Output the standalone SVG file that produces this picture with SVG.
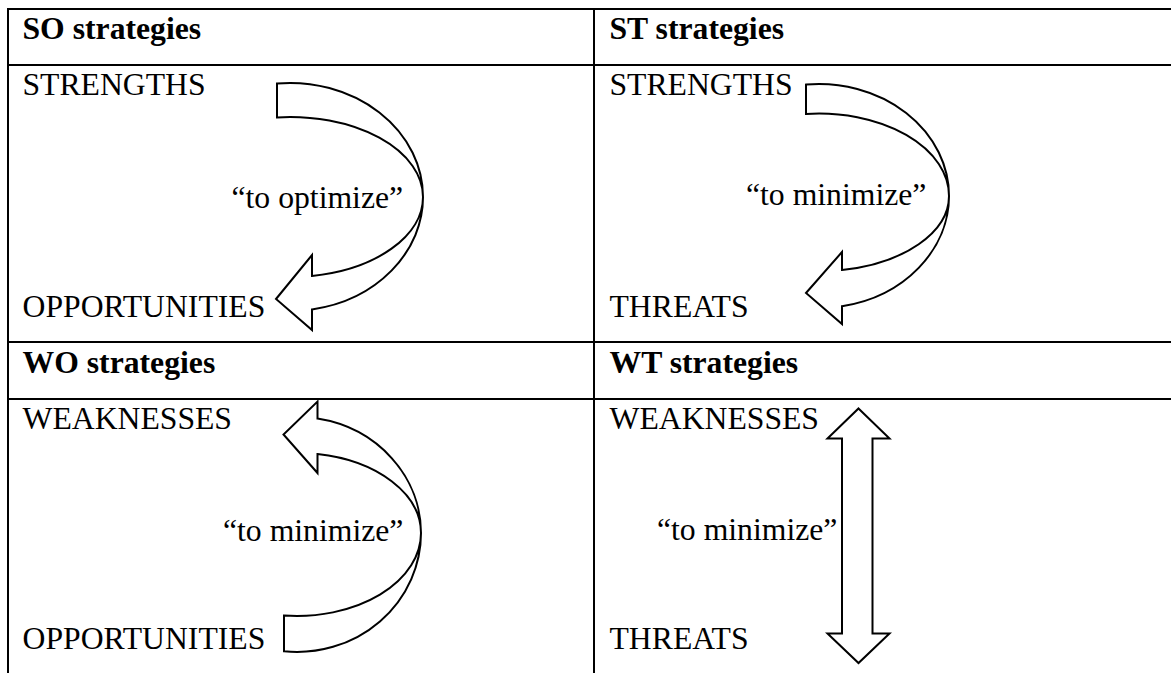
<svg xmlns="http://www.w3.org/2000/svg" width="1171" height="673" viewBox="0 0 1171 673">
<style>
.grid{stroke:#000;stroke-width:2;fill:none}
.hd{font-family:"Liberation Serif","Times New Roman",serif;font-size:31.7px;font-weight:bold;fill:#000}
.tx{font-family:"Liberation Serif","Times New Roman",serif;font-size:31.7px;fill:#000}
.arr{fill:#fff;stroke:#000;stroke-width:2;stroke-linejoin:miter}
</style>
<rect width="1171" height="673" fill="#fff"/>
<g id="grid" class="grid">
<line x1="7" y1="9" x2="1171" y2="9"/>
<line x1="8" y1="8" x2="8" y2="673"/>
<line x1="594" y1="9" x2="594" y2="673"/>
<line x1="7" y1="65" x2="1171" y2="65"/>
<line x1="7" y1="342" x2="1171" y2="342"/>
<line x1="7" y1="399" x2="1171" y2="399"/>
</g>
<g id="so">
<text class="hd" x="22.5" y="39">SO strategies</text>
<text class="tx" x="22.5" y="95">STRENGTHS</text>
<text class="tx" x="231.5" y="208">“to optimize”</text>
<text class="tx" x="22.5" y="317">OPPORTUNITIES</text>
</g>
<g id="st">
<text class="hd" x="609.5" y="39">ST strategies</text>
<text class="tx" x="609.5" y="95">STRENGTHS</text>
<text class="tx" x="746" y="205">“to minimize”</text>
<text class="tx" x="609.5" y="317">THREATS</text>
</g>
<g id="wo">
<text class="hd" x="22.5" y="373">WO strategies</text>
<text class="tx" x="22.5" y="429">WEAKNESSES</text>
<text class="tx" x="223" y="541">“to minimize”</text>
<text class="tx" x="22.5" y="649">OPPORTUNITIES</text>
</g>
<g id="wt">
<text class="hd" x="609.5" y="373">WT strategies</text>
<text class="tx" x="609.5" y="429">WEAKNESSES</text>
<text class="tx" x="657" y="540">“to minimize”</text>
<text class="tx" x="609.5" y="649">THREATS</text>
</g>
<g id="connectors">
<path class="arr" d="M277,117.4 L277,83.5 A133 114 0 0 1 423,197 A133 114 0 0 1 312,309.4 L312,330 L276,299 L312,255 L312,275.9 A133 80 0 0 0 423,197 A133 80 0 0 0 277,117.4 Z"/>
<path class="arr" d="M806,114 L806,84.6 A130 112 0 0 1 949,196 A130 112 0 0 1 842,306.2 L842,324 L806,293 L842,252 L842,270 A130 75.2 0 0 0 949,196 A130 82.4 0 0 0 806,114 Z"/>
<path class="arr" d="M284,651.3 L284,615.5 A124 83 0 0 0 421,533 A124 80 0 0 0 317.5,454.1 L317.5,473 L283.5,434.5 L317.5,401.5 L317.5,418.6 A124 116 0 0 1 421,533 A124 119 0 0 1 284,651.3 Z"/>
<path class="arr" d="M858.5,408.5 L889.5,438.5 L872.5,438.5 L872.5,633.5 L889.5,633.5 L858.5,663 L827.5,633.5 L842,633.5 L842,438.5 L827.5,438.5 Z"/>
</g>
</svg>
